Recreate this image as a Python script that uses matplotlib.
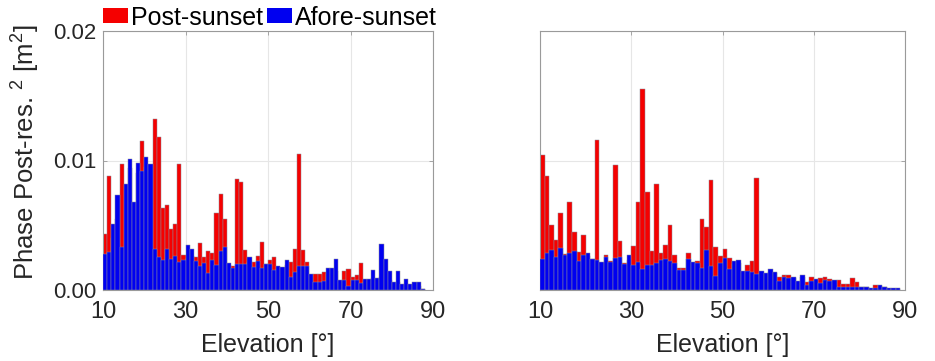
import numpy as np
import matplotlib
matplotlib.use("Agg")
import matplotlib.pyplot as plt
from matplotlib.patches import Patch

plt.rcParams['font.family'] = ['Liberation Sans', 'DejaVu Sans']
plt.rcParams['mathtext.fontset'] = 'custom'
plt.rcParams['mathtext.rm'] = 'Liberation Sans'
plt.rcParams['mathtext.it'] = 'Liberation Sans:italic'

# elevation bins (left edge, degrees)
elev_left = np.arange(10, 88)
elev_right = np.arange(10, 89)

# left panel, values in 1e-3 m^2
post_left = [4.35, 8.78, 4.0, 5.5, 9.70, 3.3, 9.4, 3.2, 9.0, 11.5,
             9.5, 3.0, 13.2, 11.8, 6.36, 6.60, 4.74, 5.10, 9.76, 2.70,
             2.5, 2.6, 2.52, 3.66, 2.57, 3.04, 2.88, 5.95, 7.39, 5.46,
             1.9, 1.85, 8.60, 8.34, 3.11, 2.2, 2.19, 2.63, 3.68, 2.03,
             2.32, 2.52, 1.6, 1.7, 1.9, 2.14, 3.14, 10.5, 3.09, 2.19,
             1.1, 1.21, 1.21, 1.36, 1.2, 1.3, 1.5, 0.7, 1.47, 1.60,
             1.00, 1.16, 2.11, 0.6, 0.7, 0.9, 0.7, 1.0, 0.9, 0.8,
             0.5, 0.6, 0.3, 0.5, 0.3, 0.4, 0.3, 0.05]
afore_left = [2.80, 2.93, 5.07, 7.34, 3.35, 8.16, 10.1, 6.82, 9.83, 9.19,
              10.3, 9.73, 3.14, 2.55, 2.32, 3.20, 2.40, 2.65, 2.14, 2.30,
              3.45, 3.17, 2.27, 1.83, 2.08, 1.29, 2.32, 1.96, 3.01, 3.30,
              2.06, 1.72, 2.03, 1.98, 1.98, 2.55, 1.78, 2.24, 1.67, 2.00,
              1.98, 1.54, 1.88, 1.80, 2.32, 1.03, 1.42, 1.88, 1.88, 1.88,
              1.21, 0.64, 0.64, 0.69, 1.72, 1.67, 2.42, 0.80, 0.77, 0.33,
              0.77, 0.77, 0.51, 0.88, 0.88, 1.52, 0.95, 3.55, 2.42, 1.47,
              0.64, 1.47, 0.44, 0.82, 0.44, 0.59, 0.59, 0.08]

# right panel, values in 1e-3 m^2
post_right = [10.4, 8.78, 5.02, 3.86, 5.92, 2.78, 6.80, 4.45, 2.91, 4.25,
              2.6, 2.40, 11.6, 2.0, 2.70, 2.25, 9.63, 3.81, 2.06, 2.3,
              3.42, 6.82, 15.5, 7.59, 3.04, 8.19, 2.86, 3.50, 5.02, 2.70,
              1.72, 1.72, 2.83, 2.0, 2.24, 5.46, 4.86, 8.49, 3.29, 2.63,
              3.14, 2.45, 2.0, 2.1, 1.3, 1.90, 2.24, 8.65, 1.3, 1.2,
              1.4, 1.3, 0.98, 1.18, 1.13, 0.9, 0.6, 1.0, 0.59, 0.98,
              0.8, 0.95, 1.00, 0.85, 0.7, 0.80, 0.49, 0.49, 0.95, 0.59,
              0.2, 0.2, 0.1, 0.39, 0.3, 0.2, 0.1, 0.1, 0.1]
afore_right = [2.42, 2.88, 3.09, 2.57, 3.22, 2.70, 2.83, 2.99, 2.24, 2.73,
               2.88, 2.37, 2.32, 2.16, 2.57, 2.16, 2.47, 2.57, 2.00, 2.70,
               1.90, 2.19, 1.62, 1.90, 1.93, 2.11, 2.32, 2.37, 2.24, 2.06,
               1.57, 1.57, 2.39, 2.14, 2.08, 1.67, 3.09, 1.88, 1.08, 2.08,
               2.45, 1.60, 2.21, 2.32, 1.49, 1.49, 1.42, 1.24, 1.44, 1.34,
               1.62, 1.42, 0.67, 0.98, 0.93, 1.03, 0.67, 1.13, 0.36, 0.72,
               0.88, 0.57, 0.77, 0.72, 0.75, 0.26, 0.26, 0.21, 0.21, 0.21,
               0.26, 0.21, 0.15, 0.15, 0.39, 0.21, 0.15, 0.15, 0.15]

xticks = [10, 30, 50, 70, 90]
yticks = [0.0, 0.01, 0.02]

red = '#f50000'
blue = '#0000f0'
edge = '#8c8c9c'
spine_c = '#9a9a9a'
txt_c = '#262626'

fig = plt.figure(figsize=(9.35, 3.61), dpi=100)
ax1 = fig.add_axes([103 / 935, 71 / 361, 330 / 935, 259 / 361])
ax2 = fig.add_axes([540 / 935, 71 / 361, 365 / 935, 259 / 361])

panels = [(ax1, elev_left, post_left, afore_left),
          (ax2, elev_right, post_right, afore_right)]

for ax, elev, post, afore in panels:
    ax.bar(elev, np.array(post) * 1e-3, width=1, align='edge', color=red,
           edgecolor=edge, linewidth=0.35, zorder=2)
    ax.bar(elev, np.array(afore) * 1e-3, width=1, align='edge', color=blue,
           edgecolor=edge, linewidth=0.35, zorder=3)
    ax.set_xlim(10, 90)
    ax.set_ylim(0, 0.02)
    ax.set_xticks(xticks)
    ax.set_yticks(yticks)
    ax.grid(True, color='#e6e6e6', linewidth=0.8, zorder=0)
    ax.set_axisbelow(True)
    for s in ax.spines.values():
        s.set_color(spine_c)
        s.set_linewidth(0.8)
    ax.tick_params(direction='in', length=3, width=0.6, color=spine_c,
                   top=True, right=True, labelcolor=txt_c)
    ax.tick_params(axis='x', labelsize=17, pad=8)
    ax.tick_params(axis='y', labelsize=16, pad=5)
    ax.set_xlabel('Elevation [°]', fontsize=18, color=txt_c)
    ax.xaxis.set_label_coords(0.5, -0.165)

ax1.set_yticklabels(['0.00', '0.01', '0.02'])
ax2.set_yticklabels([])
ax1.set_ylabel('Phase Post-res. $^2$ [m$^2$]', fontsize=18.5, color=txt_c)
ax1.yaxis.set_label_coords(-0.185, 0.53)

handles = [Patch(facecolor=red, edgecolor='none'),
           Patch(facecolor=blue, edgecolor='none')]
fig.legend(handles, ['Post-sunset', 'Afore-sunset'], loc='center left',
           bbox_to_anchor=(0.110, 0.951), ncol=2, frameon=False,
           fontsize=18, handlelength=1.0, handleheight=0.55,
           handletextpad=0.12, columnspacing=0.15, borderpad=0,
           borderaxespad=0)

fig.savefig('out.png', dpi=100, facecolor='white')
